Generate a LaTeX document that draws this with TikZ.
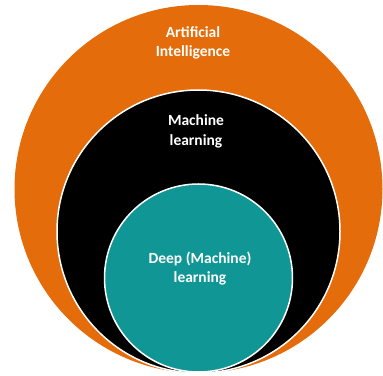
\documentclass[tikz,border=0pt]{standalone}
\usepackage{fontspec}
\setmainfont{Carlito}
\usetikzlibrary{positioning}
\definecolor{aiorange}{RGB}{228,108,10}
\definecolor{dlteal}{RGB}{16,150,148}
\tikzstyle{ring}=[
  circle,
  draw=white,
  line width=1.5pt,
  inner sep=0pt,
  outer sep=0pt,
]
\tikzstyle{caption}=[
  align=center,
  text=white,
  font={\fontsize{15.5}{19.5}\selectfont\bfseries},
  inner sep=0pt,
]

\begin{document}
\begin{tikzpicture}[x=1pt,y=1pt]
  \useasboundingbox (0,0) rectangle (383,375);
  \node (ai) [ring, draw=none, fill=aiorange, minimum size=368pt] at (198.5,186) {};
  \node (ml) [ring, fill=black, minimum size=283pt] at (198.5,143.5) {};
  \node (dl) [ring, fill=dlteal, minimum size=188pt] at (198.5,97) {};
  %%
  \node (aitext) [caption, below=21pt of ai.north, xshift=-5.5pt] {Artificial\\Intelligence};
  \node (mltext) [caption, below=24.5pt of ml.north, xshift=-2.5pt] {Machine\\learning};
  \node (dltext) [caption, below=67.5pt of dl.north, xshift=1.5pt] {Deep (Machine)\\learning};
\end{tikzpicture}
\end{document}
